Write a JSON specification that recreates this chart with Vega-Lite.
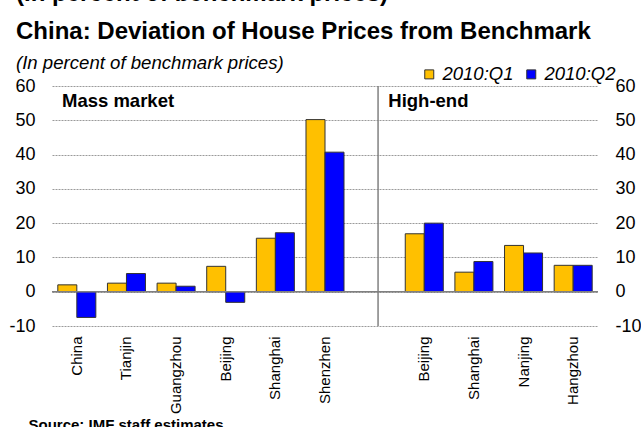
{
  "$schema": "https://vega.github.io/schema/vega-lite/v6.json",
  "width": 546,
  "height": 240,
  "autosize": {"type": "none"},
  "padding": {"left": 52, "top": 86, "right": 43, "bottom": 101},
  "background": "#ffffff",
  "config": {"font": "Liberation Sans", "view": {"stroke": null}},
  "title": {
    "text": ["(In percent of benchmark prices)", "China: Deviation of House Prices from Benchmark"],
    "subtitle": "(In percent of benchmark prices)",
    "anchor": "start",
    "frame": "group",
    "dx": -36,
    "offset": -8,
    "fontSize": 24,
    "fontWeight": "bold",
    "color": "#000000",
    "lineHeight": 38,
    "subtitleFontSize": 18.6,
    "subtitleFontStyle": "italic",
    "subtitleColor": "#000000",
    "subtitlePadding": 10
  },
  "resolve": {"axis": {"y": "independent"}},
  "layer": [
    {
      "data": {
        "values": [
          {"market": "Mass market", "city": "China", "period": "2010:Q1", "value": 2.0},
          {"market": "Mass market", "city": "China", "period": "2010:Q2", "value": -7.5},
          {"market": "Mass market", "city": "Tianjin", "period": "2010:Q1", "value": 2.5},
          {"market": "Mass market", "city": "Tianjin", "period": "2010:Q2", "value": 5.3},
          {"market": "Mass market", "city": "Guangzhou", "period": "2010:Q1", "value": 2.5},
          {"market": "Mass market", "city": "Guangzhou", "period": "2010:Q2", "value": 1.6},
          {"market": "Mass market", "city": "Beijing", "period": "2010:Q1", "value": 7.4},
          {"market": "Mass market", "city": "Beijing", "period": "2010:Q2", "value": -3.1},
          {"market": "Mass market", "city": "Shanghai", "period": "2010:Q1", "value": 15.6},
          {"market": "Mass market", "city": "Shanghai", "period": "2010:Q2", "value": 17.2},
          {"market": "Mass market", "city": "Shenzhen", "period": "2010:Q1", "value": 50.2},
          {"market": "Mass market", "city": "Shenzhen", "period": "2010:Q2", "value": 40.7},
          {"market": "High-end", "city": "Beijing (high-end)", "period": "2010:Q1", "value": 16.9},
          {"market": "High-end", "city": "Beijing (high-end)", "period": "2010:Q2", "value": 20.0},
          {"market": "High-end", "city": "Shanghai (high-end)", "period": "2010:Q1", "value": 5.7},
          {"market": "High-end", "city": "Shanghai (high-end)", "period": "2010:Q2", "value": 8.8},
          {"market": "High-end", "city": "Nanjing", "period": "2010:Q1", "value": 13.5},
          {"market": "High-end", "city": "Nanjing", "period": "2010:Q2", "value": 11.3},
          {"market": "High-end", "city": "Hangzhou", "period": "2010:Q1", "value": 7.7},
          {"market": "High-end", "city": "Hangzhou", "period": "2010:Q2", "value": 7.7}
        ]
      },
      "mark": {"type": "bar", "stroke": "#333333", "strokeWidth": 1},
      "encoding": {
        "x": {
          "field": "city",
          "type": "nominal",
          "scale": {
            "domain": ["China", "Tianjin", "Guangzhou", "Beijing", "Shanghai", "Shenzhen", "gap", "Beijing (high-end)", "Shanghai (high-end)", "Nanjing", "Hangzhou"],
            "paddingInner": 0.234,
            "paddingOuter": 0.117
          },
          "axis": {
            "labelExpr": "datum.label == 'gap' ? '' : replace(datum.label, ' (high-end)', '')",
            "labelAngle": -90,
            "labelFontSize": 15,
            "labelColor": "#000000",
            "labelPadding": 10,
            "ticks": false,
            "domain": false,
            "grid": false,
            "title": "Source: IMF staff estimates.",
            "titleFontSize": 15,
            "titleFontWeight": "bold",
            "titleColor": "#000000",
            "titleAnchor": "start",
            "titleAlign": "left",
            "titleBaseline": "alphabetic",
            "titleX": -24,
            "titleY": 103
          }
        },
        "xOffset": {"field": "period", "type": "nominal", "scale": {"paddingInner": 0, "paddingOuter": 0}},
        "y": {
          "field": "value",
          "type": "quantitative",
          "scale": {"domain": [-10, 60], "nice": false},
          "axis": {
            "orient": "left",
            "values": [-10, 0, 10, 20, 30, 40, 50, 60],
            "labelExpr": "datum.value < 0 ? '-' + abs(datum.value) : datum.label",
            "domain": false,
            "ticks": false,
            "labelFontSize": 18,
            "labelColor": "#000000",
            "labelPadding": 17,
            "grid": true,
            "gridColor": "#9a9a9a",
            "gridDash": [2, 1],
            "gridWidth": 1,
            "title": null
          }
        },
        "color": {
          "field": "period",
          "type": "nominal",
          "scale": {"domain": ["2010:Q1", "2010:Q2"], "range": ["#FFC000", "#0000FF"]},
          "legend": {
            "orient": "none",
            "legendX": 368,
            "legendY": -21,
            "direction": "horizontal",
            "columns": 2,
            "title": null,
            "padding": 0,
            "symbolType": "square",
            "symbolSize": 81,
            "symbolStrokeColor": "#333333",
            "symbolStrokeWidth": 1,
            "labelFontSize": 18.5,
            "labelFontStyle": "italic",
            "labelColor": "#000000",
            "labelOffset": 4,
            "columnPadding": 8
          }
        }
      }
    },
    {
      "data": {"values": [{}]},
      "mark": {"type": "rule", "color": "#808080", "strokeWidth": 1.5},
      "encoding": {
        "y": {
          "datum": 0,
          "type": "quantitative",
          "axis": {
            "orient": "right",
            "values": [-10, 0, 10, 20, 30, 40, 50, 60],
            "labelExpr": "datum.value < 0 ? '-' + abs(datum.value) : datum.label",
            "domain": false,
            "ticks": false,
            "grid": false,
            "labelFontSize": 18,
            "labelColor": "#000000",
            "labelPadding": 17,
            "title": null
          }
        }
      }
    },
    {
      "data": {"values": [{}]},
      "mark": {"type": "rule", "color": "#808080", "strokeWidth": 1.5},
      "encoding": {
        "x": {"datum": "gap", "type": "nominal", "bandPosition": 0.59},
        "y": {"datum": 60, "type": "quantitative", "axis": null},
        "y2": {"datum": -10}
      }
    },
    {
      "data": {"values": [{}]},
      "mark": {"type": "text", "text": "Mass market", "fontSize": 18.5, "fontWeight": "bold", "align": "left", "baseline": "alphabetic", "color": "#000000"},
      "encoding": {
        "x": {"datum": "China", "type": "nominal", "bandPosition": 0.11},
        "y": {"datum": 54, "type": "quantitative", "axis": null}
      }
    },
    {
      "data": {"values": [{}]},
      "mark": {"type": "text", "text": "High-end", "fontSize": 18.5, "fontWeight": "bold", "align": "left", "baseline": "alphabetic", "color": "#000000"},
      "encoding": {
        "x": {"datum": "gap", "type": "nominal", "bandPosition": 0.86},
        "y": {"datum": 54, "type": "quantitative", "axis": null}
      }
    }
  ]
}
